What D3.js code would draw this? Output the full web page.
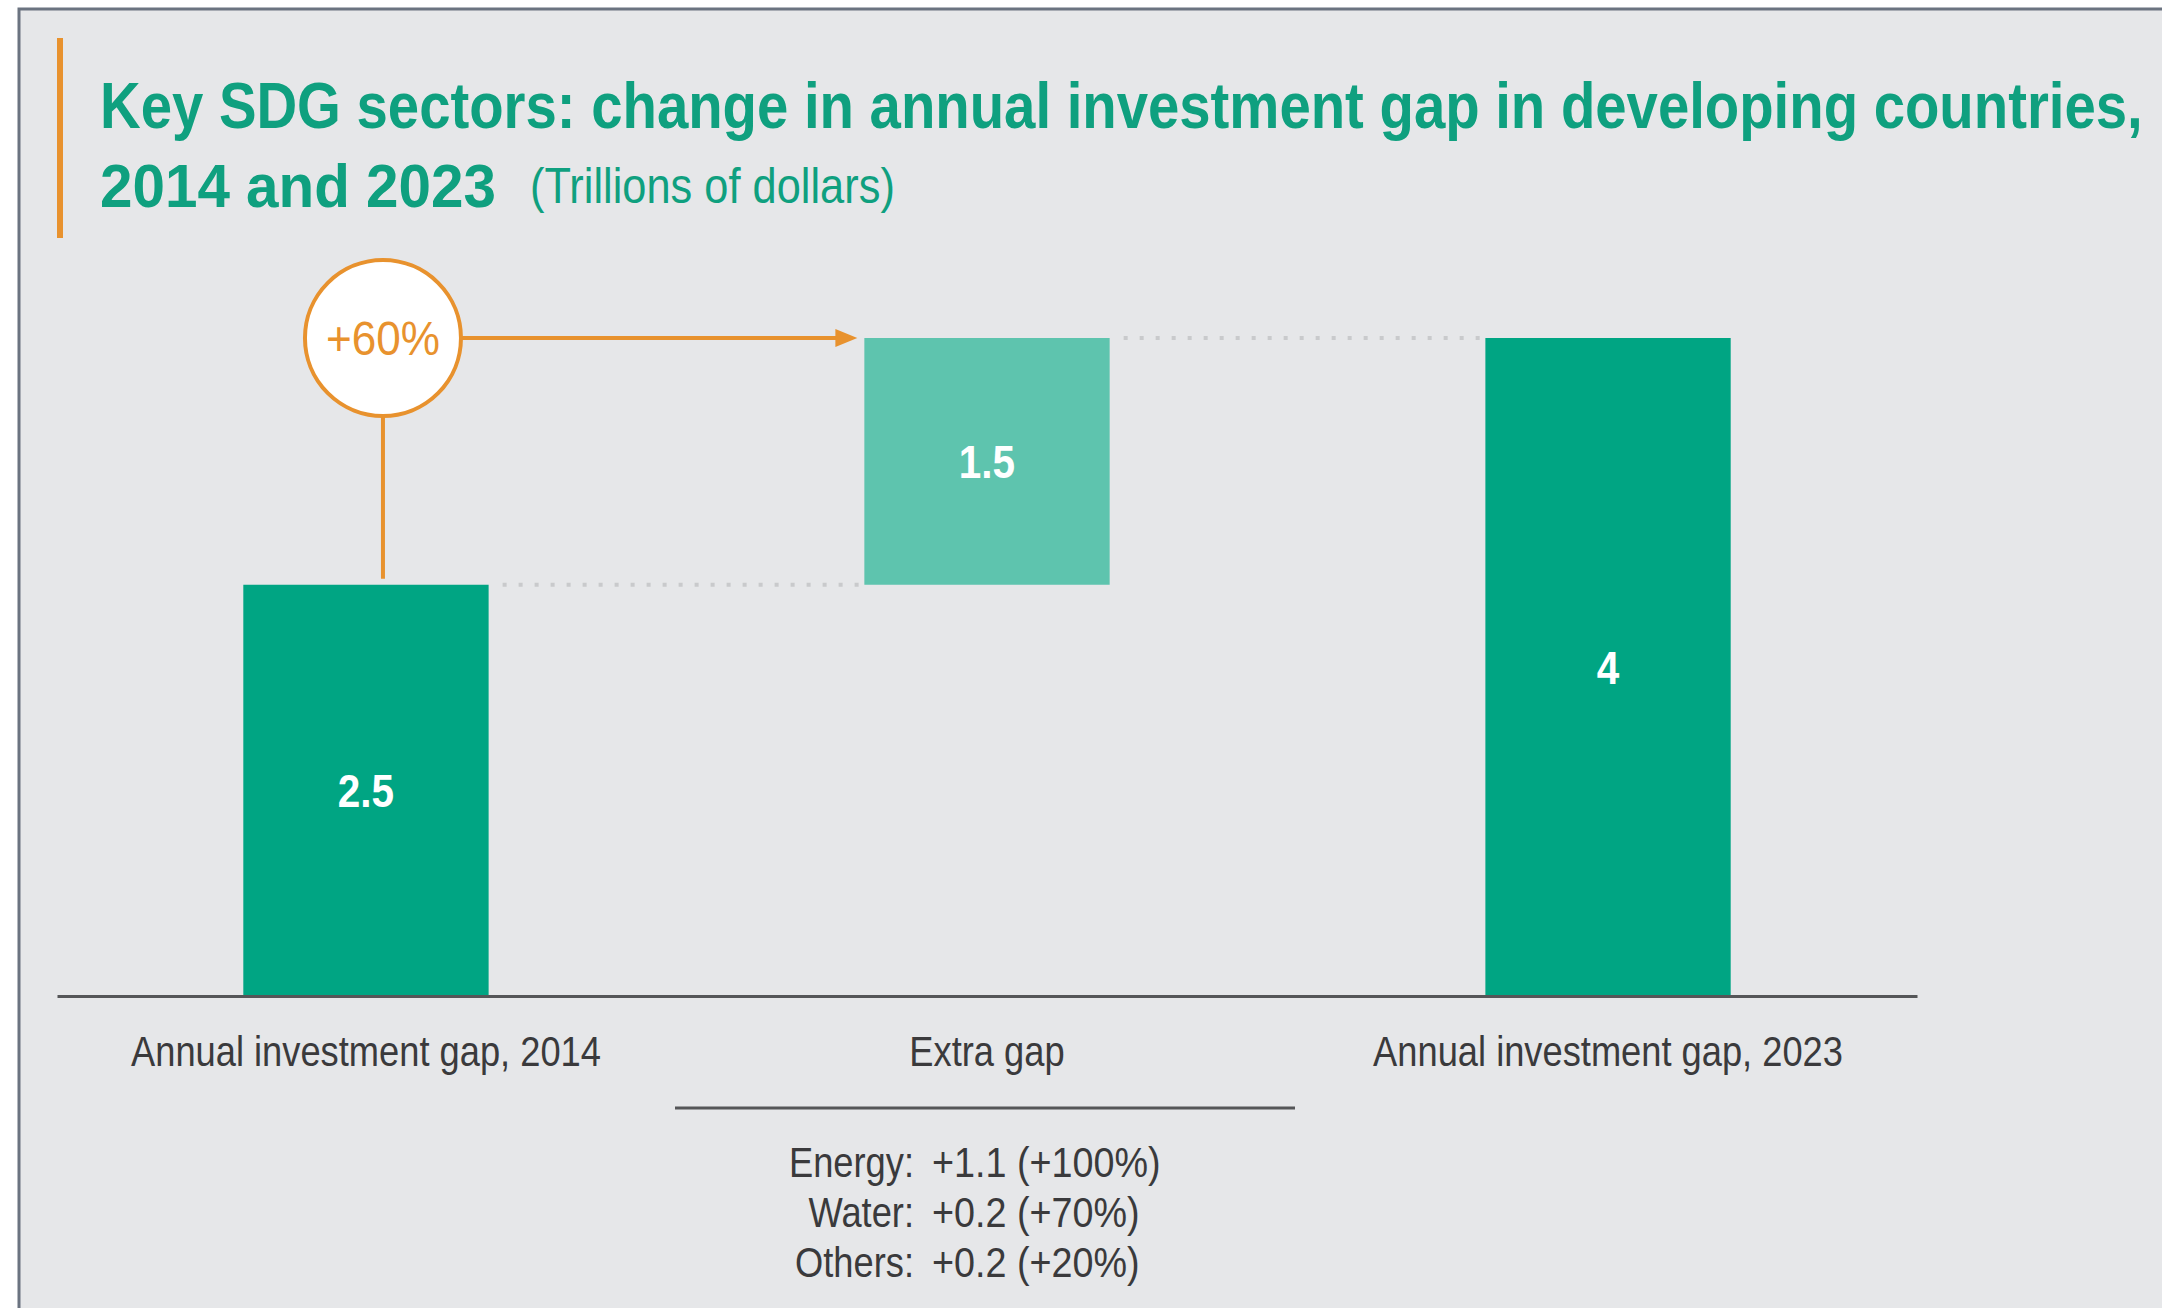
<!DOCTYPE html>
<html>
<head>
<meta charset="utf-8">
<script src="https://cdn.jsdelivr.net/npm/d3@7/dist/d3.min.js"></script>
<style>
body { margin: 0; background: #fff; }
text { font-family: "Liberation Sans", Arial, Helvetica, sans-serif; }
</style>
</head>
<body>
<div id="chart-area"></div>
<script>
/*
*    waterfall: investment gap
*/

// DATA
var categories = ["Annual investment gap, 2014", "Extra gap", "Annual investment gap, 2023"]
var values = [2.5, 1.5, 4]
var kinds = ["total", "delta", "total"]
var sectors = ["Energy", "Water", "Others"]
var sectorChange = [1.1, 0.2, 0.2]
var sectorPct = [100, 70, 20]
var growthPct = 60

var width = 2162
var height = 1308

var green = "#00a583"
var lightGreen = "#5ec4ae"
var orange = "#e8922e"
var titleGreen = "#0fa07f"
var textDark = "#3a3a3c"

// condensed look: squeeze text horizontally around its anchor
const squeeze = (sel, s) => {
	sel.each(function() {
		var t = d3.select(this)
		var x0 = +t.attr("x") || 0
		var y0 = +t.attr("y") || 0
		t.attr("x", 0).attr("y", 0)
		.attr("transform", "translate(" + x0 + "," + y0 + ") scale(" + s + ",1)")
	})
}
const widthOf = (sel) => sel.node().getComputedTextLength()

var svg = d3.select("#chart-area").append("svg")
.attr("width", width)
.attr("height", height)

// frame
svg.append("rect")
.attr("x", 19)
.attr("y", 9)
.attr("width", width + 50)
.attr("height", height + 50)
.attr("fill", "#e6e7e9")
.attr("stroke", "#6b7380")
.attr("stroke-width", 3)

svg.append("rect")
.attr("x", 57)
.attr("y", 38)
.attr("width", 6)
.attr("height", 200)
.attr("fill", orange)

// Title
var t1 = svg.append("text")
.attr("x", 100)
.attr("y", 128)
.attr("font-size", "64px")
.attr("font-weight", "bold")
.attr("fill", titleGreen)
.text("Key SDG sectors: change in annual investment gap in developing countries,")

var t2 = svg.append("text")
.attr("x", 100)
.attr("y", 207)
.attr("font-size", "62px")
.attr("font-weight", "bold")
.attr("fill", titleGreen)
.text("2014 and 2023")

var t3 = svg.append("text")
.attr("x", 530)
.attr("y", 203)
.attr("font-size", "50px")
.attr("fill", titleGreen)
.text("(Trillions of dollars)")

var titleScale = 2043 / widthOf(t1)
squeeze(t1, titleScale)
squeeze(t2, 396 / widthOf(t2))
squeeze(t3, 365 / widthOf(t3))

// scales
var x = d3.scaleBand()
.domain(categories)
.range([57, 1917])
.paddingInner(0.605)
.paddingOuter(0.3)

var y = d3.scaleLinear()
.domain([0, 4])
.range([996, 338])

// waterfall extents
var running = 0
var bars = categories.map((c, i) => {
	var start = kinds[i] == "total" ? 0 : running
	var end = kinds[i] == "total" ? values[i] : running + values[i]
	running = end
	return {cat: c, value: values[i], kind: kinds[i], start: start, end: end}
})

// dotted connectors
var g = svg.append("g")
for (var i = 0; i < bars.length - 1; i++) {
	var level = bars[i].end
	g.append("line")
	.attr("x1", x(bars[i].cat) + x.bandwidth() + 14)
	.attr("x2", x(bars[i + 1].cat) - 4)
	.attr("y1", y(level))
	.attr("y2", y(level))
	.attr("stroke", "#c9cacc")
	.attr("stroke-width", 4)
	.attr("stroke-dasharray", "4 12")
}

// bars
g.selectAll("rect.bar")
.data(bars)
.enter().append("rect")
.attr("class", "bar")
.attr("x", d => x(d.cat))
.attr("width", x.bandwidth())
.attr("y", d => y(d.end))
.attr("height", d => y(d.start) - y(d.end))
.attr("fill", d => d.kind == "total" ? green : lightGreen)

var valLabels = g.selectAll("text.val")
.data(bars)
.enter().append("text")
.attr("class", "val")
.attr("x", d => x(d.cat) + x.bandwidth() / 2)
.attr("y", d => (y(d.start) + y(d.end)) / 2)
.attr("dy", "0.36em")
.attr("text-anchor", "middle")
.attr("font-size", "46px")
.attr("font-weight", "bold")
.attr("fill", "#fff")
.text(d => d.value)
squeeze(valLabels, 0.88)

// X axis
var xAxisCall = d3.axisBottom(x).tickSize(0).tickSizeOuter(0)
var xAxisGroup = svg.append("g")
.attr("class", "x axis")
.attr("transform", "translate(0, " + y(0) + ")")
.call(xAxisCall)

xAxisGroup.select(".domain")
.attr("stroke", "#555658")
.attr("stroke-width", 3)

var tickTexts = xAxisGroup.selectAll(".tick text")
.attr("y", 70)
.attr("dy", 0)
.attr("font-size", "42px")
.attr("font-family", null)
.attr("fill", textDark)

var labelScale = 470 / widthOf(tickTexts.filter((d, i) => i == 0))
squeeze(tickTexts, labelScale)

// growth annotation
var cx = x(categories[0]) + x.bandwidth() / 2 + 17
var cy = y(bars[2].end)
var r = 78
svg.append("line")
.attr("x1", cx).attr("x2", cx)
.attr("y1", cy + r)
.attr("y2", y(bars[0].end) - 6)
.attr("stroke", orange)
.attr("stroke-width", 4)

var tipX = x(categories[1]) - 7
svg.append("line")
.attr("x1", cx + r).attr("x2", tipX - 18)
.attr("y1", cy).attr("y2", cy)
.attr("stroke", orange)
.attr("stroke-width", 4)

svg.append("path")
.attr("d", d3.line()([[tipX - 22, cy - 9], [tipX, cy], [tipX - 22, cy + 9]]) + "Z")
.attr("fill", orange)

svg.append("circle")
.attr("cx", cx)
.attr("cy", cy)
.attr("r", r)
.attr("fill", "#fff")
.attr("stroke", orange)
.attr("stroke-width", 4)

var pctText = svg.append("text")
.attr("x", cx)
.attr("y", cy)
.attr("dy", "0.36em")
.attr("text-anchor", "middle")
.attr("font-size", "48px")
.attr("fill", orange)
.text("+" + growthPct + "%")
squeeze(pctText, 114 / widthOf(pctText))

// breakdown of extra gap
var mid = x(categories[1]) + x.bandwidth() / 2
svg.append("line")
.attr("x1", mid - 312).attr("x2", mid + 308)
.attr("y1", 1108).attr("y2", 1108)
.attr("stroke", "#555658")
.attr("stroke-width", 3)

var fmt = d3.format(".1f")
sectors.forEach((s, i) => {
	var ty = 1177 + i * 50
	var a = svg.append("text")
	.attr("x", mid - 73)
	.attr("y", ty)
	.attr("text-anchor", "end")
	.attr("font-size", "42px")
	.attr("fill", textDark)
	.text(s + ":")
	var b = svg.append("text")
	.attr("x", mid - 55)
	.attr("y", ty)
	.attr("font-size", "42px")
	.attr("fill", textDark)
	.text("+" + fmt(sectorChange[i]) + " (+" + sectorPct[i] + "%)")
	squeeze(a, labelScale)
	squeeze(b, labelScale * 1.04)
})
</script>
</body>
</html>
